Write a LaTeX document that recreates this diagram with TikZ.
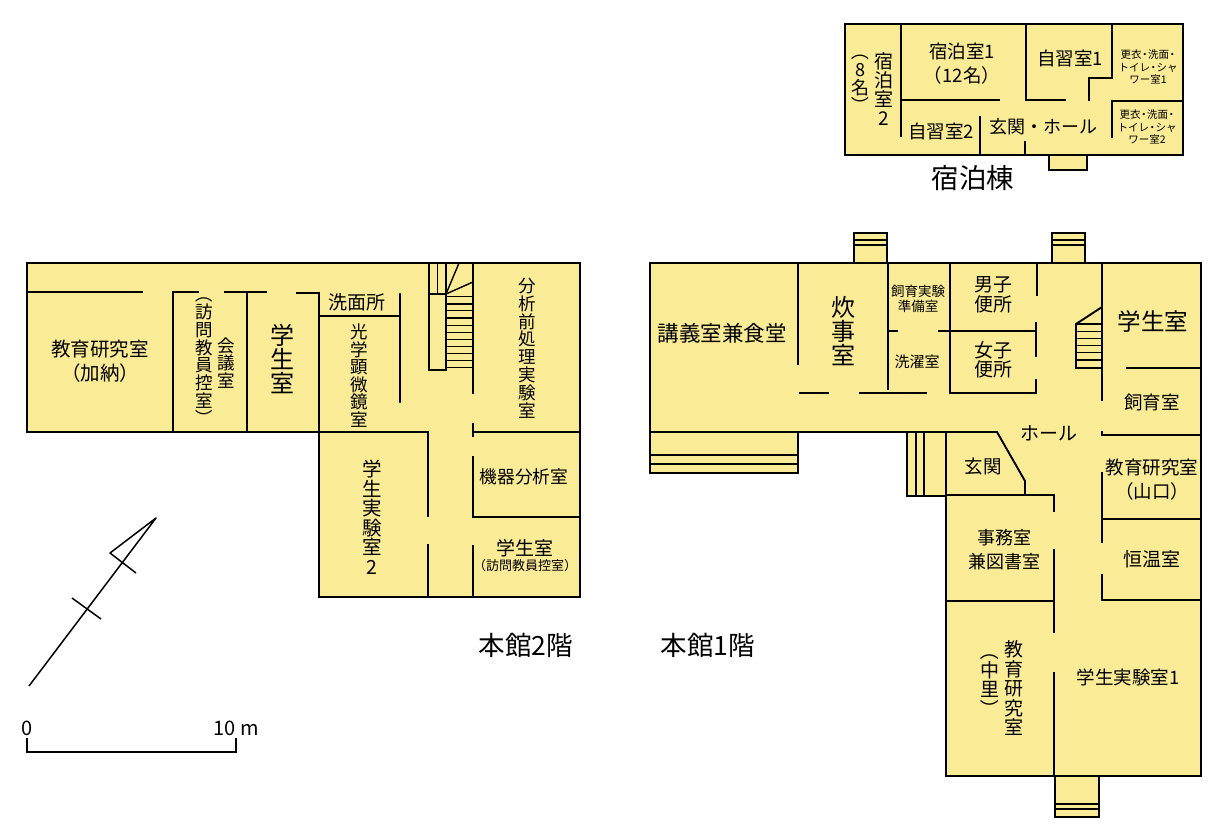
\documentclass[tikz,border=0pt]{standalone}
\usepackage{fontspec}
\setmainfont{Noto Sans CJK JP}
\newcommand{\fs}[2]{\fontsize{#1}{#2}\selectfont}
\newcommand{\vo}{\smash{\rotatebox[origin=c]{-90}{（}}}
\newcommand{\vc}{\smash{\rotatebox[origin=c]{-90}{）}}}
\newcommand{\dt}{\kern-2pt・\kern-2pt}
\definecolor{roomfill}{HTML}{FAEB96}
\tikzset{
  outline/.style={draw=black,fill=roomfill,line width=2.2pt,line join=miter},
  wall/.style={draw=black,line width=1.9pt,line join=miter},
  thin wall/.style={draw=black,line width=1.4pt},
  lbl/.style={inner sep=0pt,align=center,text=black},
  mark line/.style={draw=black,line width=1.5pt}
}
\begin{document}
\begin{tikzpicture}[x=1pt,y=-1pt]
\useasboundingbox (0,0) rectangle (1225,828);

% ---------- Lodging building ----------
\path[outline] (1049,155) rectangle (1087,170);
\path[outline] (845,24) rectangle (1183,155);
\path[wall] (901,24) -- (901,137);
\path[wall] (901,100) -- (1000,100);
\path[wall] (1026,24) -- (1026,100) -- (1066,100);
\path[wall] (1112,24) -- (1112,78) -- (1089,78) -- (1089,101);
\path[wall] (1183,101) -- (1112,101) -- (1112,138);
\path[wall] (980,116) -- (980,155);
\path[wall] (1025,141) -- (1025,155);
\node[lbl,font=\fs{18.5}{24}] at (962,64) {宿泊室1\\（12名）};
\node[lbl,font=\fs{18.5}{24}] at (1070,58) {自習室1};
\node[lbl,font=\fs{10.5}{12.8}] at (1148,67) {更衣\dt 洗面\dt\\トイレ\dt シャ\\ワー室1};
\node[lbl,font=\fs{10.5}{12.8}] at (1147,127) {更衣\dt 洗面\dt\\トイレ\dt シャ\\ワー室2};
\node[lbl,font=\fs{18.5}{24}] at (941,131) {自習室2};
\node[lbl,font=\fs{18}{24}] at (1043,127) {玄関・ホール};
\node[lbl,font=\fs{19}{19.2}] at (884,89) {宿\\泊\\室\\2};
\node[lbl,font=\fs{18}{18}] at (860,85) {\vo\\8\\名\\\vc};
\node[lbl,font=\fs{27.5}{30}] at (973,178) {宿泊棟};

% ---------- Main building, 2F ----------
\path[outline] (27,263) -- (580,263) -- (580,597) -- (319,597) -- (319,432) -- (27,432) -- cycle;
\path[wall] (27,292) -- (143,292);
\path[wall] (199,292) -- (173,292) -- (173,432);
\path[wall] (224,292) -- (267,292);
\path[wall] (247,292) -- (247,432);
\path[wall] (296,293) -- (319,293) -- (319,432);
\path[wall] (319,316) -- (400,316);
\path[wall] (400,293) -- (400,403);
\path[wall] (319,432) -- (428,432) -- (428,517);
\path[wall] (428,544) -- (428,597);
\path[wall] (429,263) -- (429,370) -- (446,370) -- (446,263);
\path[wall] (429,294) -- (446,294);
\path[thin wall] (437.5,263) -- (437.5,294);
\path[thin wall] (446,294) -- (459,263);
\path[thin wall] (446,294) -- (473,282);
\foreach \yy in {296.7,304,310.7,318,325.3,332.3,339.3,346.7,353.3,360.7,367.3}
  \path[thin wall] (446,\yy) -- (473,\yy);
\path[wall] (473,263) -- (473,394);
\path[wall] (473,423) -- (473,437);
\path[wall] (473,432) -- (580,432);
\path[wall] (473,456) -- (473,517) -- (580,517);
\path[wall] (473,545) -- (473,597);
\node[lbl,font=\fs{19.5}{24}] at (100,361) {教育研究室\\（加納）};
\node[lbl,font=\fs{17.5}{17.8}] at (204,363) {\vo\\訪\\問\\教\\員\\控\\室\\\vc};
\node[lbl,font=\fs{17.5}{17.8}] at (226,363) {会\\議\\室};
\node[lbl,font=\fs{24}{24}] at (282,359) {学\\生\\室};
\node[lbl,font=\fs{19}{24}] at (357,302) {洗面所};
\node[lbl,font=\fs{17.5}{17.6}] at (359,375.5) {光\\学\\顕\\微\\鏡\\室};
\node[lbl,font=\fs{17.5}{17.8}] at (527,348) {分\\析\\前\\処\\理\\実\\験\\室};
\node[lbl,font=\fs{19.5}{19.5}] at (372,517) {学\\生\\実\\験\\室\\2};
\node[lbl,font=\fs{17.7}{24}] at (524,477) {機器分析室};
\node[lbl,font=\fs{19}{24}] at (525,548) {学生室};
\node[lbl,font=\fs{13}{16}] at (525,566) {（訪問教員控室）};
\node[lbl,font=\fs{26.5}{30}] at (526,645) {本館2階};
\node[lbl,font=\fs{26.5}{30}] at (708,645) {本館1階};

% ---------- Main building, 1F ----------
\path[outline] (854,233) rectangle (887,263);
\path[outline] (1052,233) rectangle (1085,263);
\path[wall] (854,240) -- (887,240);
\path[wall] (854,245) -- (887,245);
\path[wall] (1052,240) -- (1085,240);
\path[wall] (1052,245) -- (1085,245);
\path[outline] (1055,776) rectangle (1099,817);
\path[wall] (1055,804) -- (1099,804);
\path[wall] (1055,809) -- (1099,809);
\path[outline] (650,432) rectangle (798,473);
\path[wall] (650,455) -- (798,455);
\path[wall] (650,464) -- (798,464);
\path[outline] (907,432) rectangle (946,496);
\path[wall] (916,432) -- (916,496);
\path[wall] (924,432) -- (924,496);
\path[outline] (650,263) -- (1201,263) -- (1201,776) -- (946,776) -- (946,432) -- (650,432) -- cycle;
\path[wall] (798,263) -- (798,365);
\path[wall] (888,263) -- (888,390);
\path[wall] (799,393) -- (829,393);
\path[wall] (859,393) -- (927,393);
\path[wall] (888,331) -- (898,331);
\path[wall] (938,331) -- (1036,331);
\path[wall] (950,263) -- (950,393) -- (1036,393) -- (1036,379);
\path[wall] (1036,322) -- (1036,357);
\path[wall] (1037,263) -- (1037,296);
\path[wall] (1102,263) -- (1102,401);
\path[wall] (1102,368) -- (1076,368) -- (1076,324) -- (1102,307);
\path[wall] (1076,324) -- (1102,324);
\foreach \yy in {331.7,338.3,345.7,352.7,360}
  \path[thin wall] (1076,\yy) -- (1102,\yy);
\path[wall] (1126,368) -- (1201,368);
\path[wall] (1102,431) -- (1102,435) -- (1201,435);
\path[wall] (1102,472) -- (1102,543);
\path[wall] (1102,519) -- (1201,519);
\path[wall] (1102,574) -- (1102,600) -- (1201,600);
\path[wall] (946,432) -- (997,432) -- (1025,481) -- (1025,495);
\path[wall] (946,495) -- (1054,495) -- (1054,512);
\path[wall] (1054,549) -- (1054,633);
\path[wall] (946,601) -- (1054,601);
\path[wall] (1054,672) -- (1054,776);
\node[lbl,font=\fs{21.5}{24}] at (722,333) {講義室兼食堂};
\node[lbl,font=\fs{24}{24}] at (843,331) {炊\\事\\室};
\node[lbl,font=\fs{13.5}{14.5}] at (918,299) {飼育実験\\準備室};
\node[lbl,font=\fs{15}{18}] at (917,362) {洗濯室};
\node[lbl,font=\fs{19}{20}] at (993,295) {男子\\便所};
\node[lbl,font=\fs{19}{19.5}] at (993,360) {女子\\便所};
\node[lbl,font=\fs{23.5}{24}] at (1153,322) {学生室};
\node[lbl,font=\fs{18.5}{24}] at (1152,402) {飼育室};
\node[lbl,font=\fs{19}{24}] at (1049,433) {ホール};
\node[lbl,font=\fs{18.5}{24}] at (983,467) {玄関};
\node[lbl,font=\fs{18.5}{24}] at (1152,480) {教育研究室\\（山口）};
\node[lbl,font=\fs{18}{24}] at (1004,550) {事務室\\兼図書室};
\node[lbl,font=\fs{19}{24}] at (1152,559) {恒温室};
\node[lbl,font=\fs{19}{19.5}] at (1014,688) {教\\育\\研\\究\\室};
\node[lbl,font=\fs{19}{19.5}] at (990,687) {\vo\\中\\里\\\vc};
\node[lbl,font=\fs{18.5}{24}] at (1128,677) {学生実験室1};

% ---------- North arrow and scale ----------
\path[mark line,line join=round] (29,686) -- (156,518) -- (110,553) -- (136,573);
\path[mark line] (72,598) -- (101,619);
\path[mark line] (27,738) -- (27,752) -- (236,752) -- (236,738);
\node[lbl,font=\fs{20}{24}] at (27,728) {0};
\node[lbl,font=\fs{20}{24}] at (236,728) {10 m};
\end{tikzpicture}
\end{document}
